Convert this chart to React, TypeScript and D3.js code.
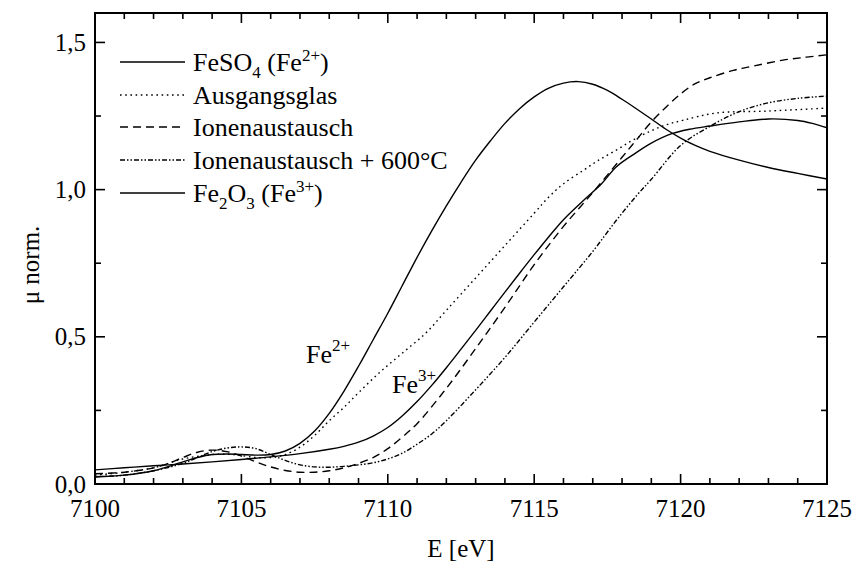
import React from "react";
import * as d3 from "d3";

// Fe K-edge XANES spectra (normalized absorption)
const energyFeSO4 = [7100, 7101, 7102, 7103, 7103.5, 7104, 7104.5, 7105, 7105.5, 7106, 7106.5, 7107, 7107.5, 7108, 7108.5, 7109, 7109.5, 7110, 7110.5, 7111, 7111.5, 7112, 7112.5, 7113, 7113.5, 7114, 7114.5, 7115, 7115.5, 7116, 7116.5, 7117, 7117.5, 7118, 7118.5, 7119, 7119.5, 7120, 7120.5, 7121, 7122, 7123, 7124, 7125];
const muFeSO4 = [0.024, 0.03, 0.045, 0.075, 0.09, 0.1, 0.102, 0.1, 0.098, 0.1, 0.112, 0.138, 0.18, 0.24, 0.315, 0.4, 0.49, 0.58, 0.675, 0.77, 0.86, 0.945, 1.025, 1.1, 1.165, 1.225, 1.275, 1.315, 1.345, 1.362, 1.367, 1.358, 1.337, 1.307, 1.274, 1.24, 1.205, 1.175, 1.15, 1.13, 1.1, 1.075, 1.055, 1.036];

const energyGlas = [7100, 7101, 7102, 7103, 7104, 7104.7, 7105.5, 7106, 7106.5, 7107, 7107.5, 7108, 7108.5, 7109, 7109.7, 7110.5, 7111.3, 7112, 7113, 7114, 7115, 7115.5, 7116, 7116.7, 7117.2, 7117.8, 7118.4, 7119, 7119.5, 7120.1, 7121.2, 7123, 7125];
const muGlas = [0.03, 0.04, 0.055, 0.085, 0.1, 0.1, 0.09, 0.09, 0.1, 0.125, 0.165, 0.215, 0.26, 0.31, 0.377, 0.445, 0.513, 0.59, 0.7, 0.81, 0.92, 0.975, 1.02, 1.067, 1.1, 1.134, 1.17, 1.2, 1.22, 1.236, 1.26, 1.267, 1.277];

const energyIon = [7100, 7101, 7102, 7102.5, 7103, 7103.5, 7104, 7104.5, 7105, 7105.5, 7106, 7106.5, 7107, 7107.5, 7108, 7108.5, 7109, 7109.5, 7110, 7110.5, 7111, 7112, 7113, 7114, 7115, 7116, 7117, 7118, 7118.5, 7119, 7119.5, 7120, 7120.5, 7121, 7121.8, 7122.5, 7123.5, 7124.3, 7125];
const muIon = [0.035, 0.04, 0.055, 0.07, 0.09, 0.108, 0.115, 0.11, 0.095, 0.075, 0.058, 0.046, 0.04, 0.04, 0.045, 0.055, 0.07, 0.09, 0.12, 0.16, 0.205, 0.325, 0.46, 0.6, 0.745, 0.875, 0.99, 1.11, 1.17, 1.23, 1.28, 1.325, 1.36, 1.38, 1.405, 1.42, 1.44, 1.45, 1.458];

const energyIon600 = [7100, 7101, 7102, 7103, 7103.5, 7104, 7104.5, 7105, 7105.5, 7106, 7106.5, 7107, 7107.5, 7108, 7108.5, 7109, 7109.5, 7110, 7110.5, 7111, 7111.5, 7112, 7113, 7114, 7115, 7116, 7117, 7117.8, 7118.5, 7119, 7120, 7121, 7122, 7123, 7124, 7125];
const muIon600 = [0.025, 0.03, 0.045, 0.07, 0.09, 0.11, 0.122, 0.126, 0.12, 0.1, 0.08, 0.065, 0.058, 0.057, 0.06, 0.065, 0.072, 0.085, 0.105, 0.135, 0.17, 0.215, 0.32, 0.43, 0.55, 0.67, 0.79, 0.895, 0.98, 1.035, 1.15, 1.215, 1.265, 1.295, 1.31, 1.318];

const energyFe2O3 = [7100, 7101, 7102, 7103, 7104, 7105, 7106, 7107, 7108, 7108.5, 7109, 7109.5, 7110, 7110.5, 7111, 7111.5, 7112, 7112.5, 7113, 7113.5, 7114, 7114.5, 7115, 7115.5, 7116, 7116.7, 7117.3, 7117.8, 7118.4, 7119, 7119.7, 7120.3, 7121, 7122, 7123, 7124, 7124.5, 7125];
const muFe2O3 = [0.048, 0.055, 0.062, 0.068, 0.075, 0.083, 0.092, 0.103, 0.118, 0.128, 0.142, 0.163, 0.192, 0.232, 0.28, 0.335, 0.395, 0.458, 0.522, 0.587, 0.652, 0.716, 0.779, 0.84, 0.898, 0.965, 1.02, 1.077, 1.12, 1.158, 1.19, 1.205, 1.216, 1.23, 1.24, 1.235, 1.225, 1.21];

const xTicks = [7100, 7105, 7110, 7115, 7120, 7125];
const yTicks = [0, 0.5, 1.0, 1.5];
const yTickLabels = ["0,0", "0,5", "1,0", "1,5"];

type Series = { key: string; x: number[]; y: number[]; dash: string };
const series: Series[] = [
  { key: "feso4", x: energyFeSO4, y: muFeSO4, dash: "none" },
  { key: "glas", x: energyGlas, y: muGlas, dash: "1.6,3.6" },
  { key: "ion", x: energyIon, y: muIon, dash: "8,5" },
  { key: "ion600", x: energyIon600, y: muIon600, dash: "5,2,1.5,2,1.5,2" },
  { key: "fe2o3", x: energyFe2O3, y: muFe2O3, dash: "none" },
];

const W = 856;
const H = 565;
const M = { left: 95, right: 827, top: 13, bottom: 484 };
const FONT = "Liberation Serif";

export default function App() {
  const x = d3.scaleLinear().domain([7100, 7125]).range([M.left, M.right]);
  const y = d3.scaleLinear().domain([0, 1.6]).range([M.bottom, M.top]);

  const minorX = d3.range(7100, 7125.01, 1);
  const minorY = d3.range(0, 1.601, 0.25);

  const line = (s: Series) =>
    d3
      .line<number>()
      .x((_, i) => x(s.x[i]))
      .y((v) => y(v))
      .curve(d3.curveCatmullRom.alpha(0.5))(s.y) as string;

  const legendRows = [
    { dash: "none", y: 62, label: (
      <>FeSO<tspan fontSize={17} dy={7}>4</tspan><tspan dy={-7}> (Fe</tspan><tspan fontSize={17} dy={-10}>2+</tspan><tspan dy={10}>)</tspan></>
    ) },
    { dash: "1.6,3.6", y: 95, label: <>Ausgangsglas</> },
    { dash: "8,5", y: 127, label: <>Ionenaustausch</> },
    { dash: "5,2,1.5,2,1.5,2", y: 160, label: <>Ionenaustausch + 600°C</> },
    { dash: "none", y: 193, label: (
      <>Fe<tspan fontSize={17} dy={7}>2</tspan><tspan dy={-7}>O</tspan><tspan fontSize={17} dy={7}>3</tspan><tspan dy={-7}> (Fe</tspan><tspan fontSize={17} dy={-10}>3+</tspan><tspan dy={10}>)</tspan></>
    ) },
  ];

  return (
    <svg width={W} height={H} style={{ position: "absolute", left: 0, top: 0, background: "#fff" }}>
      <rect x={0} y={0} width={W} height={H} fill="#fff" />
      <defs>
        <clipPath id="plot">
          <rect x={M.left} y={M.top} width={M.right - M.left} height={M.bottom - M.top} />
        </clipPath>
      </defs>

      {/* curves */}
      <g clipPath="url(#plot)" fill="none" stroke="#000" strokeWidth={1.4}>
        {series.map((s) => (
          <path key={s.key} d={line(s)} strokeDasharray={s.dash} />
        ))}
      </g>

      {/* ticks */}
      <g stroke="#000" strokeWidth={1.6}>
        {minorX.map((v) => {
          const major = Math.abs(v % 5) < 1e-6;
          const len = major ? 10 : 6;
          return (
            <g key={"x" + v}>
              <line x1={x(v)} x2={x(v)} y1={M.bottom} y2={M.bottom - len} />
              <line x1={x(v)} x2={x(v)} y1={M.top} y2={M.top + len} />
            </g>
          );
        })}
        {minorY.map((v) => {
          const major = Math.abs((v * 2) % 1) < 1e-6;
          const len = major ? 10 : 6;
          return (
            <g key={"y" + v}>
              <line x1={M.left} x2={M.left + len} y1={y(v)} y2={y(v)} />
              <line x1={M.right} x2={M.right - len} y1={y(v)} y2={y(v)} />
            </g>
          );
        })}
      </g>

      {/* frame */}
      <rect x={M.left} y={M.top} width={M.right - M.left} height={M.bottom - M.top} fill="none" stroke="#000" strokeWidth={2} />

      {/* tick labels */}
      {xTicks.map((v) => (
        <text key={"xl" + v} fontFamily={FONT} fontSize={25} fill="#000" x={x(v)} y={517} textAnchor="middle">{v}</text>
      ))}
      {yTicks.map((v, i) => (
        <text key={"yl" + v} fontFamily={FONT} fontSize={25} fill="#000" x={86} y={y(v) + 8.5} textAnchor="end">{yTickLabels[i]}</text>
      ))}

      {/* axis titles */}
      <text fontFamily={FONT} x={461} y={557} fontSize={25} textAnchor="middle">E [eV]</text>
      <text fontFamily={FONT} transform={`translate(39,265) rotate(-90)`} fontSize={25} textAnchor="middle">μ norm.</text>

      {/* legend */}
      {legendRows.map((r, i) => (
        <g key={"lg" + i}>
          <line x1={120} x2={185} y1={r.y} y2={r.y} stroke="#000" strokeWidth={1.4} strokeDasharray={r.dash} />
          <text fontFamily={FONT} fontSize={26} x={193} y={r.y + 9}>{r.label}</text>
        </g>
      ))}

      {/* oxidation-state annotations */}
      <text fontFamily={FONT} x={306} y={363} fontSize={26}>Fe<tspan fontSize={17} dy={-12}>2+</tspan></text>
      <text fontFamily={FONT} x={392} y={393} fontSize={26}>Fe<tspan fontSize={17} dy={-12}>3+</tspan></text>
    </svg>
  );
}
